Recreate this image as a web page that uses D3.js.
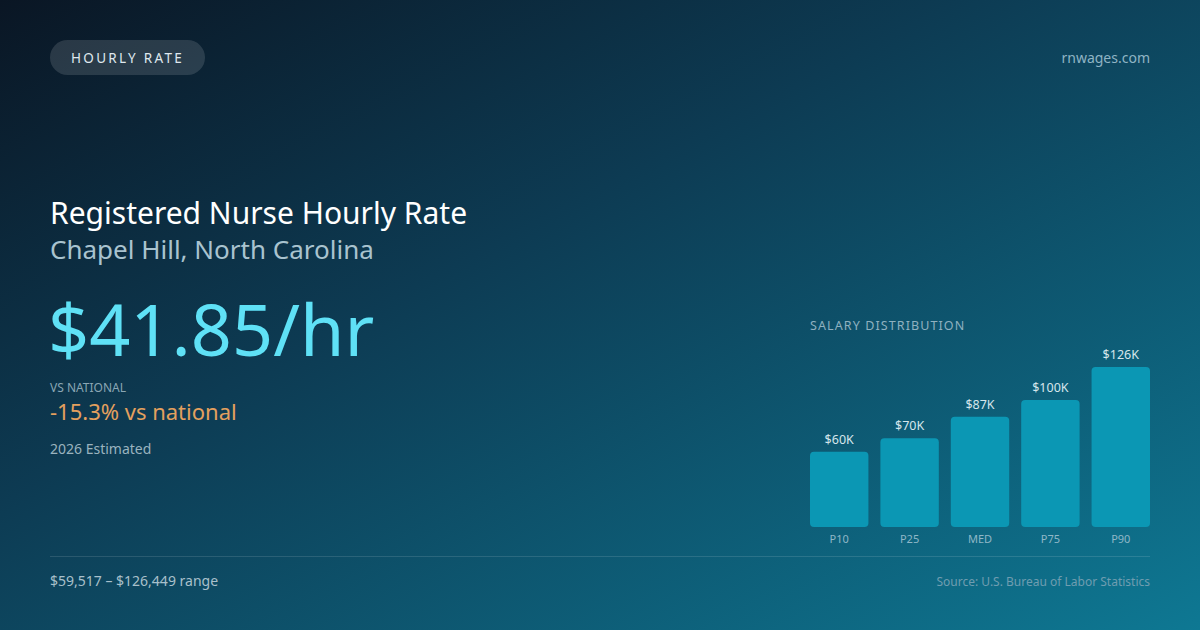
<!DOCTYPE html>
<html>
<head>
<meta charset="utf-8">
<script src="https://cdn.jsdelivr.net/npm/d3@7"></script>
<style>
  html, body { margin: 0; padding: 0; background: #0c1a28; }
  svg { display: block; font-family: "Noto Sans", "Open Sans", sans-serif; }
</style>
</head>
<body>
<div class="container"></div>
<script>
// chart data
const percentiles = ["P10", "P25", "MED", "P75", "P90"]
const salaries = [59517, 70100, 87048, 100300, 126449]
const salaryLabels = ["$60K", "$70K", "$87K", "$100K", "$126K"]

const hourlyRate = "$41.85/hr"
const vsNational = "-15.3% vs national"
const rangeText = "$59,517 – $126,449 range"

const W = 1200, H = 630

const svg = d3.select(".container")
              .append("svg")
              .attr("width", W)
              .attr("height", H)

const defs = svg.append("defs")
const bg = defs.append("linearGradient")
               .attr("id", "bg")
               .attr("x1", "0%").attr("y1", "0%")
               .attr("x2", "100%").attr("y2", "100%")
bg.append("stop").attr("offset", "0%").attr("stop-color", "#0a1624")
bg.append("stop").attr("offset", "40%").attr("stop-color", "#0d3b53")
bg.append("stop").attr("offset", "100%").attr("stop-color", "#0e7893")

svg.append("rect")
   .attr("width", W)
   .attr("height", H)
   .attr("fill", "url(#bg)")

// pill badge
svg.append("rect")
   .attr("x", 50).attr("y", 40)
   .attr("width", 155).attr("height", 35)
   .attr("rx", 17.5)
   .attr("fill", "rgba(255,255,255,0.13)")
svg.append("text")
   .attr("x", 127.5).attr("y", 62.5)
   .attr("text-anchor", "middle")
   .attr("fill", "#dfe8ee")
   .style("font-size", "13.5px")
   .style("letter-spacing", "2.3px")
   .text("HOURLY RATE")

svg.append("text")
   .attr("x", 1150).attr("y", 63)
   .attr("text-anchor", "end")
   .attr("fill", "#8fb4c4")
   .style("font-size", "14px")
   .text("rnwages.com")

// headings
svg.append("text")
   .attr("x", 50).attr("y", 224)
   .attr("fill", "#ffffff")
   .style("font-size", "30px")
   .text("Registered Nurse Hourly Rate")
svg.append("text")
   .attr("x", 50).attr("y", 259)
   .attr("fill", "#a9c3cf")
   .style("font-size", "26px")
   .text("Chapel Hill, North Carolina")

svg.append("text")
   .attr("x", 48).attr("y", 356)
   .attr("fill", "#5fe1f6")
   .style("font-size", "72px")
   .text(hourlyRate)

svg.append("text")
   .attr("x", 50).attr("y", 392)
   .attr("fill", "#8aa6b4")
   .style("font-size", "12px")
   .text("VS NATIONAL")
svg.append("text")
   .attr("x", 50).attr("y", 420)
   .attr("fill", "#e4a05e")
   .style("font-size", "22px")
   .text(vsNational)
svg.append("text")
   .attr("x", 50).attr("y", 454)
   .attr("fill", "#9ab3bf")
   .style("font-size", "14px")
   .text("2026 Estimated")

// salary distribution bars
svg.append("text")
   .attr("x", 810).attr("y", 330)
   .attr("fill", "#8fb1c0")
   .style("font-size", "12.5px")
   .style("letter-spacing", "1.1px")
   .text("SALARY DISTRIBUTION")

const x = d3.scaleBand()
            .domain(percentiles)
            .range([810, 1150])
            .paddingInner(0.17)
            .paddingOuter(0)

const y = d3.scaleLinear()
            .domain([0, d3.max(salaries)])
            .range([527, 367])

const bars = svg.selectAll(".bar")
                .data(percentiles)
                .enter()
                .append("g")
                .attr("class", "bar")

bars.append("rect")
    .attr("x", (p)=> x(p))
    .attr("y", (p, i)=> y(salaries[i]))
    .attr("width", x.bandwidth())
    .attr("height", (p, i)=> y(0) - y(salaries[i]))
    .attr("rx", 4)
    .attr("fill", "#0b97b4")

bars.append("text")
    .attr("x", (p)=> x(p) + x.bandwidth()/2)
    .attr("y", (p, i)=> y(salaries[i]) - 8)
    .attr("text-anchor", "middle")
    .attr("fill", "#d6e6ec")
    .style("font-size", "12.5px")
    .text((p, i)=> salaryLabels[i])

bars.append("text")
    .attr("x", (p)=> x(p) + x.bandwidth()/2)
    .attr("y", 543)
    .attr("text-anchor", "middle")
    .attr("fill", "#8fb7c7")
    .style("font-size", "11px")
    .text((p)=> p)

// footer
svg.append("line")
   .attr("x1", 50).attr("x2", 1150)
   .attr("y1", 556.5).attr("y2", 556.5)
   .attr("stroke", "rgba(255,255,255,0.12)")
   .attr("stroke-width", 1)

svg.append("text")
   .attr("x", 50).attr("y", 586)
   .attr("fill", "#a9c0cb")
   .style("font-size", "14px")
   .text(rangeText)

svg.append("text")
   .attr("x", 1150).attr("y", 586)
   .attr("text-anchor", "end")
   .attr("fill", "#6f9db0")
   .style("font-size", "12px")
   .text("Source: U.S. Bureau of Labor Statistics")
</script>
</body>
</html>
